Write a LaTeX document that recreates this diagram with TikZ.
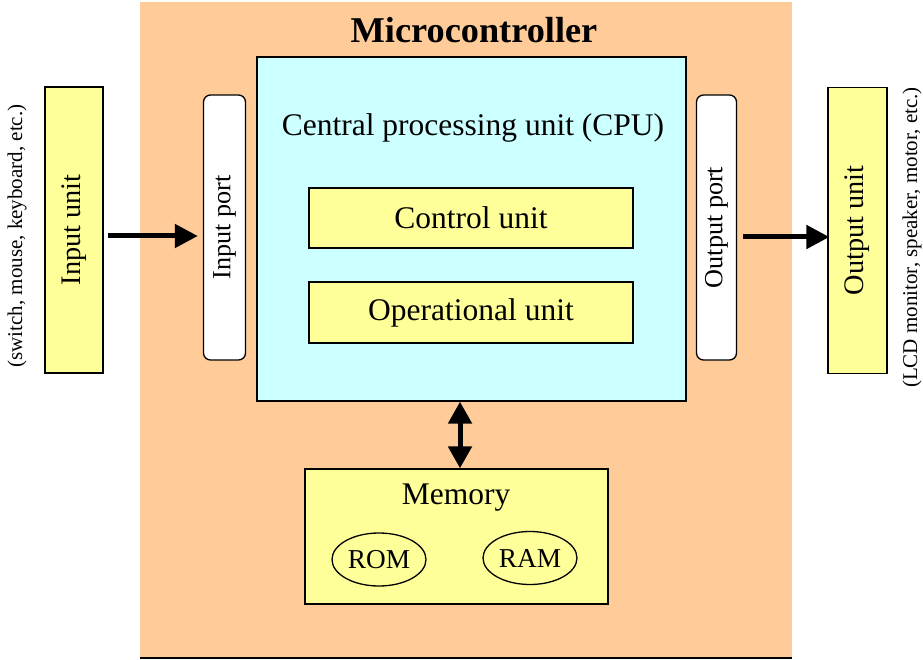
\documentclass[tikz,border=0pt]{standalone}
\usepackage{fontspec}
\setmainfont{Liberation Serif}
\usetikzlibrary{arrows.meta,shapes.geometric}

\definecolor{mcuorange}{HTML}{FFCC99}
\definecolor{unityellow}{HTML}{FFFF99}
\definecolor{cpucyan}{HTML}{CCFFFF}

\tikzset{
  box/.style={draw=black, line width=1.3pt, inner sep=0pt, align=center},
  unitbox/.style={box, fill=unityellow, rotate=90,
                  font=\fontsize{28.3}{32}\selectfont},
  portbox/.style={box, fill=white, rounded corners=7pt, rotate=90,
                  font=\fontsize{26.2}{30}\selectfont},
  innerbox/.style={box, fill=unityellow, font=\fontsize{31.5}{36}\selectfont},
  memchip/.style={draw=black, line width=1.3pt, ellipse,
                  font=\fontsize{27.3}{31}\selectfont, inner sep=0pt},
  note/.style={rotate=90, font=\fontsize{21}{25}\selectfont, inner sep=0pt},
  bigarrow/.style={line width=5pt, -{Triangle[length=23pt, width=23pt]}},
  dblarrow/.style={line width=5pt,
                   {Triangle[length=22pt, width=23pt]}-{Triangle[length=22pt, width=23pt]}},
}

\begin{document}
\begin{tikzpicture}[x=1pt, y=-1pt]
  \useasboundingbox (0,0) rectangle (923,660);

  % microcontroller body
  \fill[mcuorange] (140,2) rectangle (792,658);
  \coordinate (mcubl) at (140,658);
  \coordinate (mcubr) at (792,658);
  \draw[line width=1.3pt] (mcubl) -- (mcubr);
  \node[font=\bfseries\fontsize{36.3}{41}\selectfont, inner sep=0pt] (title) at (474,30) {Microcontroller};

  % CPU with its two units
  \node[box, fill=cpucyan, minimum width=429pt, minimum height=344pt] (cpu) at (471.5,229) {};
  \node[font=\fontsize{31.5}{36}\selectfont, inner sep=0pt] (cpulabel) at (473,128) {Central processing unit (CPU)};
  \node[innerbox, minimum width=324pt, minimum height=60pt] (ctrl) at (471,218) {Control unit};
  \node[innerbox, minimum width=324pt, minimum height=61pt] (oper) at (471,312.5) {Operational unit};

  % ports
  \node[portbox, minimum width=265pt, minimum height=42pt] (inport) at (224.5,227.5) {Input port};
  \node[portbox, minimum width=265pt, minimum height=40pt] (outport) at (716.5,227.5) {Output port};

  % external units
  \node[unitbox, minimum width=286pt, minimum height=58pt] (inunit) at (74,230) {Input unit};
  \node[unitbox, minimum width=286pt, minimum height=59pt] (outunit) at (857.5,230.5) {Output unit};
  \node[note] (innote) at (17,236) {(switch, mouse, keyboard, etc.)};
  \node[note] (outnote) at (912,237.5) {(LCD monitor, speaker, motor, etc.)};

  % memory
  \node[box, fill=unityellow, minimum width=303pt, minimum height=135pt] (mem) at (456.5,536.5) {};
  \node[font=\fontsize{31.5}{36}\selectfont, inner sep=0pt] (memlabel) at (456,498) {Memory};
  \node[memchip, minimum width=94pt, minimum height=53pt] (rom) at (379,559.5) {ROM};
  \node[memchip, minimum width=94pt, minimum height=53pt] (ram) at (530,558) {RAM};

  % data paths
  \path (inunit.south) ++(0,6) coordinate (ina)
        (outport.south) ++(0,9.5) coordinate (outa);
  \draw[bigarrow, shorten <=4pt, shorten >=5pt] (ina) -- (ina -| inport.north);
  \draw[bigarrow, shorten <=6pt, shorten >=-2pt] (outa) -- (outa -| outunit.north);
  \path (cpu.south -| mem.north) ++(3.5,0) coordinate (dbltop)
        (mem.north) ++(3.5,0) coordinate (dblbot);
  \draw[dblarrow] (dbltop) -- (dblbot);
\end{tikzpicture}
\end{document}
